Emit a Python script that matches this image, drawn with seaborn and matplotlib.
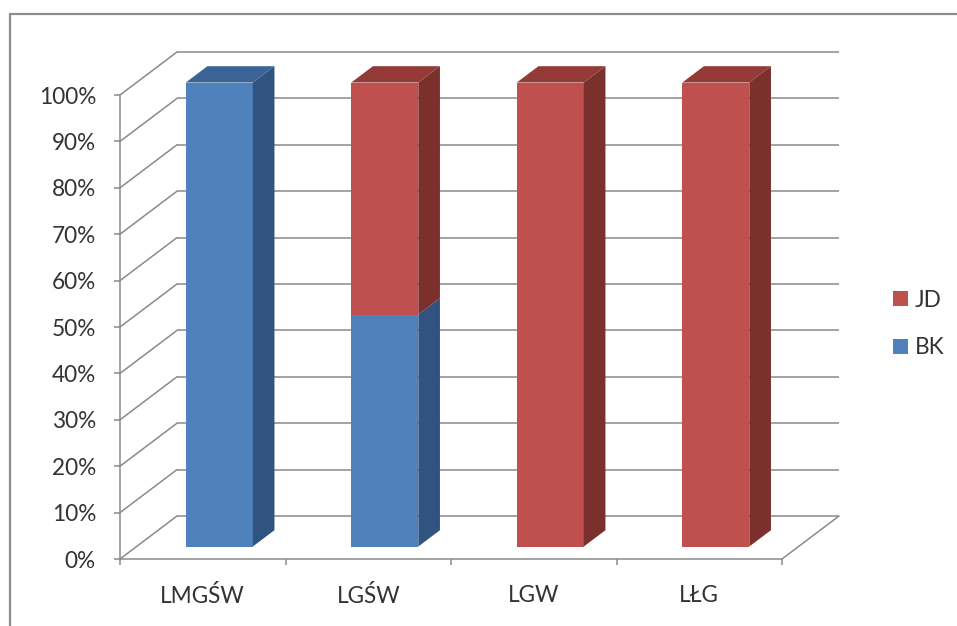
import matplotlib
matplotlib.use("Agg")
import matplotlib.pyplot as plt
from matplotlib.patches import Polygon, Patch
from matplotlib.lines import Line2D
from matplotlib.transforms import ScaledTranslation, IdentityTransform
import seaborn as sns

# Share of each group per site (percent, stacked to 100%)
categories = ["LMGŚW", "LGŚW", "LGW", "LŁG"]
bk_share = [100, 50, 0, 0]
jd_share = [0, 50, 100, 100]
series_names = ["JD", "BK"]
y_ticks = [0, 10, 20, 30, 40, 50, 60, 70, 80, 90, 100]
y_tick_labels = [f"{v}%" for v in y_ticks]

FRONT = {"BK": "#4F81BD", "JD": "#C0504D"}
SIDE = {"BK": "#30547F", "JD": "#7B302E"}
TOP = {"BK": "#3C6396", "JD": "#943A37"}
GRID = "#8A8A8A"
TEXT = "#333333"
FONT_SIZE = 16.3

sns.set_style("white")
plt.rcParams["font.family"] = ["Lato", "DejaVu Sans"]

DPI = 100
W, H = 957, 626
fig = plt.figure(figsize=(W / DPI, H / DPI), dpi=DPI)
fig.patch.set_facecolor("white")

# front plane of the 3-D box
ax = fig.add_axes([120 / W, 67 / H, 662 / W, 464 / H])
ax.patch.set_visible(False)

DEPTH = (57.0, 43.0)        # screen offset of the back wall, in pixels
BAR_D0, BAR_D1 = 0.29, 0.67  # depth range occupied by the columns
BAR_W = 0.405


def shift(d):
    return ScaledTranslation(d * DEPTH[0] / DPI, d * DEPTH[1] / DPI, fig.dpi_scale_trans)


def proj(x, y, d):
    px, py = ax.transData.transform((x, y))
    return (px + d * DEPTH[0], py + d * DEPTH[1])


totals = [b + j for b, j in zip(bk_share, jd_share)]

# front faces: totals in JD colour, BK drawn over the lower part
sns.barplot(x=categories, y=totals, color=FRONT["JD"], saturation=1, width=BAR_W,
            errorbar=None, ax=ax, zorder=3)
sns.barplot(x=categories, y=bk_share, color=FRONT["BK"], saturation=1, width=BAR_W,
            errorbar=None, ax=ax, zorder=3)

ax.set_xlim(-0.5, len(categories) - 0.5)
ax.set_ylim(0, 100)

for p in ax.patches:
    p.set_transform(ax.transData + shift(BAR_D0))
    p.set_clip_on(False)
    p.set_linewidth(0)

# walls and floor
wall = ax.transData + shift(1)
x_lo, x_hi = -0.5, len(categories) - 0.5
for v in y_ticks:
    ax.plot([x_lo, x_hi], [v, v], transform=wall, color=GRID, lw=1.1,
            clip_on=False, zorder=1, solid_capstyle="butt")
    a, b = proj(x_lo, v, 0), proj(x_lo, v, 1)
    ax.add_line(Line2D([a[0], b[0]], [a[1], b[1]], transform=IdentityTransform(),
                       color=GRID, lw=1.1, zorder=1, clip_on=False))
a, b = proj(x_hi, 0, 0), proj(x_hi, 0, 1)
ax.add_line(Line2D([a[0], b[0]], [a[1], b[1]], transform=IdentityTransform(),
                   color=GRID, lw=1.1, zorder=1, clip_on=False))

# side and top faces of the columns
for i, (bk, jd) in enumerate(zip(bk_share, jd_share)):
    x0, x1 = i - BAR_W / 2, i + BAR_W / 2
    segments = [(0, bk, "BK"), (bk, bk + jd, "JD")]
    segments = [s for s in segments if s[1] > s[0]]
    for k, (lo, hi, name) in enumerate(segments):
        side = [proj(x1, lo, BAR_D0), proj(x1, hi, BAR_D0),
                proj(x1, hi, BAR_D1), proj(x1, lo, BAR_D1)]
        ax.add_patch(Polygon(side, closed=True, transform=IdentityTransform(),
                             facecolor=SIDE[name], edgecolor="none", zorder=4, clip_on=False))
        if k == len(segments) - 1:
            top = [proj(x0, hi, BAR_D0), proj(x1, hi, BAR_D0),
                   proj(x1, hi, BAR_D1), proj(x0, hi, BAR_D1)]
            ax.add_patch(Polygon(top, closed=True, transform=IdentityTransform(),
                                 facecolor=TOP[name], edgecolor="none", zorder=4, clip_on=False))

# axes
for s in ["top", "right"]:
    ax.spines[s].set_visible(False)
for s in ["left", "bottom"]:
    ax.spines[s].set_color(GRID)
    ax.spines[s].set_linewidth(1.1)

ax.set_yticks(y_ticks, y_tick_labels)
ax.set_xticks(range(len(categories)), categories)
ax.set_xticks([x_lo + k for k in range(len(categories) + 1)], minor=True)
ax.tick_params(axis="y", direction="out", length=4.3, width=1.1, color=GRID,
               labelsize=FONT_SIZE, labelcolor=TEXT, pad=13, left=True)
ax.tick_params(axis="x", which="major", length=0, labelsize=FONT_SIZE,
               labelcolor=TEXT, pad=19)
ax.tick_params(axis="x", which="minor", direction="out", length=4.3, width=1.1,
               color=GRID, bottom=True)
ax.set_xlabel("")
ax.set_ylabel("")

# legend
handles = [Patch(facecolor=FRONT[n], edgecolor="none", label=n) for n in series_names]
fig.legend(handles=handles, loc="center left", bbox_to_anchor=(893 / W, 1 - 324 / H),
           frameon=False, fontsize=FONT_SIZE, handlelength=0.68, handleheight=0.68,
           handletextpad=0.3, labelspacing=1.18, borderpad=0, borderaxespad=0,
           labelcolor=TEXT)

# chart area border
fig.add_artist(Line2D([9.5 / W, 9.5 / W, 0.9995], [0.0, 1 - 14 / H, 1 - 14 / H],
                      transform=fig.transFigure, color="#8C8C8C", lw=1.6))

fig.savefig("out.png", dpi=DPI)
